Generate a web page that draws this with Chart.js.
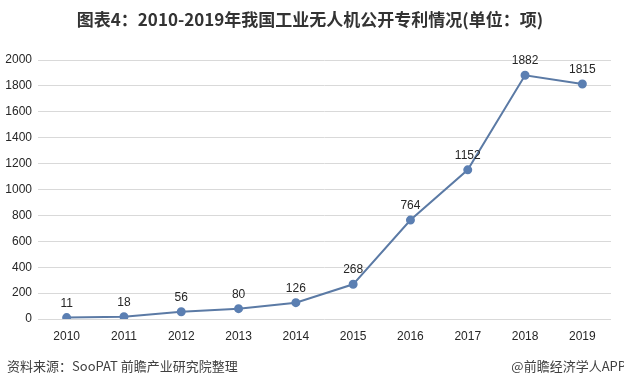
<!DOCTYPE html>
<html><head><meta charset="utf-8">
<script src="https://cdn.jsdelivr.net/npm/chart.js@4"></script>
<style>html,body{margin:0;padding:0;background:#fff;}#wrap{width:624px;height:388px;position:relative;}</style>
</head><body><div id="wrap"><canvas id="c" width="624" height="388"></canvas></div>
<script>
const categories = ["2010","2011","2012","2013","2014","2015","2016","2017","2018","2019"];
const patents = [11, 18, 56, 80, 126, 268, 764, 1152, 1882, 1815];
const yTicks = [0,200,400,600,800,1000,1200,1400,1600,1800,2000];
const titleText = "图表4：2010-2019年我国工业无人机公开专利情况(单位：项)";
const sourceText = "资料来源：SooPAT 前瞻产业研究院整理";
const brandText = "@前瞻经济学人APP";

const textPlugin = {
  id: 'texts',
  afterDatasetsDraw(chart) {
    const ctx = chart.ctx;
    ctx.save();
    const meta = chart.getDatasetMeta(0);
    ctx.fillStyle = '#262626';
    ctx.font = '12px "Liberation Sans", Arial, sans-serif';
    ctx.textAlign = 'center';
    ctx.textBaseline = 'alphabetic';
    meta.data.forEach((pt, i) => {
      ctx.fillText(String(patents[i]), pt.x, pt.y - 11);
    });
    ctx.fillStyle = '#333333';
    ctx.font = 'bold 17px "Noto Sans CJK SC", sans-serif';
    ctx.textAlign = 'center';
    ctx.textBaseline = 'middle';
    ctx.fillText(titleText, 310, 20);
    ctx.font = '13px "Noto Sans CJK SC", sans-serif';
    ctx.fillStyle = '#404040';
    ctx.textAlign = 'left';
    ctx.fillText(sourceText, 7, 366);
    ctx.textAlign = 'right';
    ctx.fillText(brandText, 626, 366);
    ctx.restore();
  }
};

new Chart(document.getElementById('c'), {
  type: 'line',
  data: {
    labels: categories,
    datasets: [{
      data: patents,
      borderColor: '#5b7aa5',
      backgroundColor: '#5b7fb2',
      borderWidth: 2,
      pointRadius: 3.5,
      pointBackgroundColor: '#5b7fb2',
      pointBorderColor: '#5b7fb2',
      tension: 0,
      fill: false
    }]
  },
  options: {
    responsive: false,
    animation: false,
    layout: { padding: { top: 60, right: 13, bottom: 43, left: 0 } },
    plugins: { legend: { display: false }, tooltip: { enabled: false }, title: { display: false } },
    scales: {
      x: {
        offset: true,
        grid: { display: false, drawTicks: false },
        border: { display: false },
        ticks: { color: '#262626', font: { size: 12, family: '"Liberation Sans", Arial, sans-serif' }, padding: 10, maxRotation: 0 },
        afterFit(scale) { scale.height = 26; }
      },
      y: {
        min: 0, max: 2000,
        afterBuildTicks(scale) { scale.ticks = yTicks.map(v => ({ value: v })); },
        grid: { color: '#d9d9d9', lineWidth: 1, drawTicks: false },
        border: { display: false },
        ticks: { color: '#262626', font: { size: 12, family: '"Liberation Sans", Arial, sans-serif' }, padding: 6, callback: (v) => String(v) },
        afterFit(scale) { scale.width = 38; }
      }
    }
  },
  plugins: [textPlugin]
});
</script></body></html>
